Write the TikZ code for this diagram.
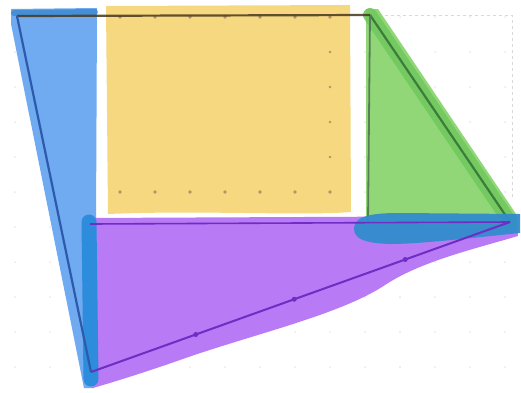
\documentclass[tikz,border=0pt]{standalone}
\usetikzlibrary{calc}
\definecolor{yel}{RGB}{245,216,128}
\definecolor{bluelt}{RGB}{112,170,240}
\definecolor{bluemid}{RGB}{45,140,220}
\definecolor{bluedk}{RGB}{45,90,170}
\definecolor{grn}{RGB}{145,215,120}
\definecolor{grnhl}{RGB}{115,200,95}
\definecolor{grndk}{RGB}{60,125,60}
\definecolor{purp}{RGB}{185,122,245}
\definecolor{purpdk}{RGB}{110,45,195}
\definecolor{band}{RGB}{50,140,205}
\definecolor{brn}{RGB}{160,120,70}
\tikzset{
  griddot/.style={fill=gray!18},
  browndot/.style={fill=brn!80},
  hl/.style={line cap=round, line join=round},
}
\begin{document}
\begin{tikzpicture}[x=1pt,y=-1pt]
\useasboundingbox (0,0) rectangle (521,392);
\fill[white] (0,0) rectangle (521,392);
% faint grid of dots
\foreach \i in {0,...,14} {
  \foreach \j in {0,...,10} {
    \fill[griddot] (15+35*\i,17+35*\j) circle (1pt);
  }
}
% dashed outline at top right
\draw[gray!30, dashed, line width=1pt] (385,15) -- (512,15) -- (512,200);
% named points
\coordinate (A) at (17,16);
\coordinate (B) at (370,15);
\coordinate (C) at (510,222);
\coordinate (D) at (91,372);
\coordinate (E) at (90,224);
\coordinate (F) at (368,222);
% yellow rectangle
\fill[yel] (106,6) -- (350,5) -- (351,212) .. controls (300,216) and (200,210) .. (108,214) -- cycle;
\foreach \x in {120,155,190,225,260,295,330} {
  \fill[browndot] (\x,17) circle (1.8pt);
  \fill[browndot] (\x,192) circle (1.8pt);
}
\foreach \y in {52,87,122,157} {
  \fill[browndot] (330,\y) circle (1.3pt);
}
% blue left region
\fill[bluelt] (11,9) -- (97,8) -- (96,226) -- (94,388) -- (84,388) -- (11,24) -- cycle;
\draw[bluemid!90!black, line width=6pt, hl, opacity=0.6] (14,13) -- (95,12);
% purple region
\fill[purp] (86,218) -- (517,216) -- (518,236) .. controls (470,250) and (420,262) .. (385,285)
  .. controls (340,315) and (250,335) .. (180,360) .. controls (140,374) and (110,383) .. (93,388) -- cycle;
% blue vertical stroke
\draw[bluemid, line width=15pt, hl] (89,222) -- (91,379);
% green triangle
\fill[grn] (366,9) -- (378,9) -- (516,214) -- (516,228) -- (366,224) -- cycle;
\draw[grnhl, line width=14pt, hl, opacity=0.9] (B) -- (C);
\draw[grndk, line width=2.2pt] (B) -- (C);
\draw[grndk!60!gray, line width=1.8pt] (B) -- (F);
% blue band at the bottom of green
\fill[band, opacity=0.95] (354,228) .. controls (354,214) and (380,213) .. (400,213) -- (520,214) -- (520,233)
  .. controls (470,238) and (420,244) .. (390,244) .. controls (362,243) and (354,238) .. (354,228);
% lines
\draw[black!55!brn, line width=2.2pt, opacity=0.85] (A) -- (B);
\draw[bluedk, line width=2.2pt] (A) -- (D);
\draw[purpdk, line width=1.6pt] (E) -- (C);
\draw[purpdk, line width=2pt] (D) -- (C);
\foreach \t in {0.25,0.485,0.75} {
  \fill[purpdk] ($(D)!\t!(C)$) circle (2.5pt);
}
\end{tikzpicture}
\end{document}
